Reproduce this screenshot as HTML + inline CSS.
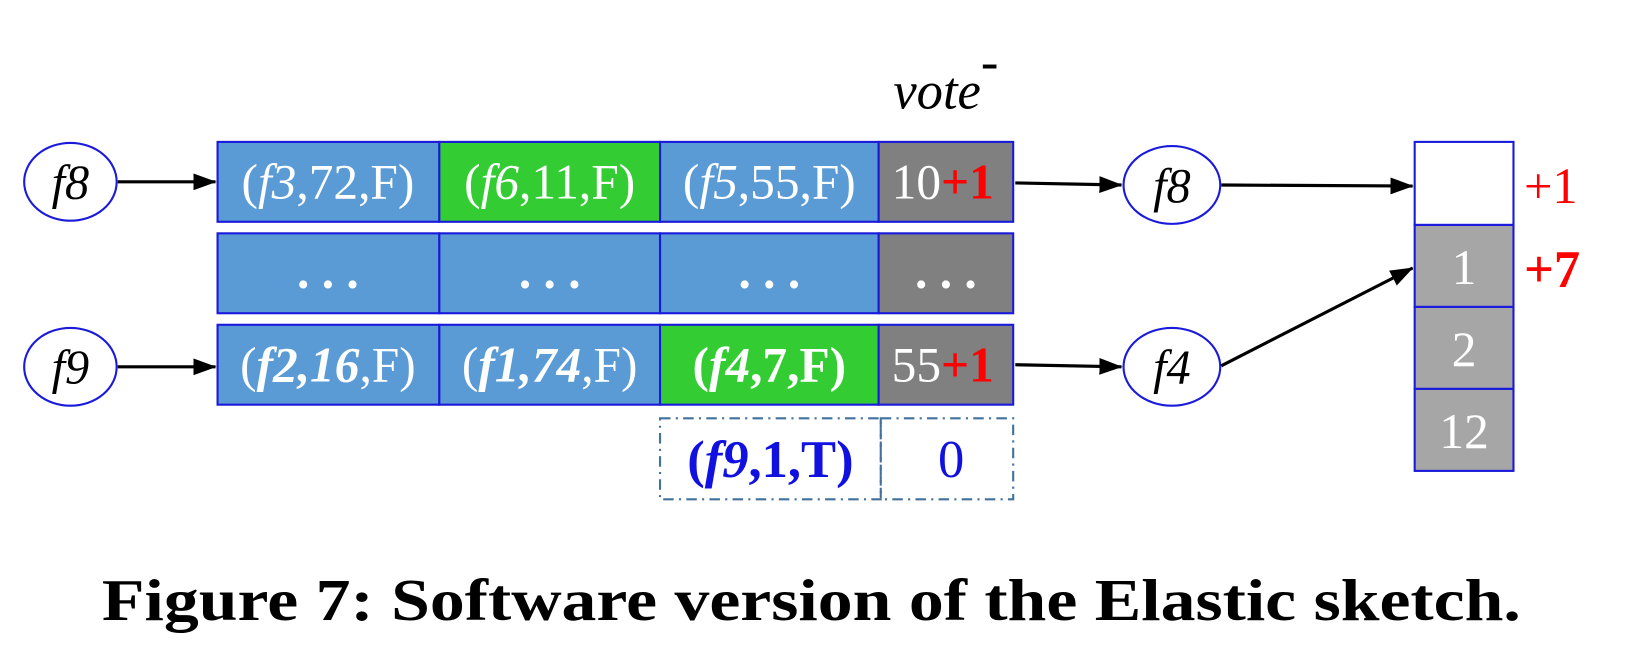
<!DOCTYPE html>
<html><head><meta charset="utf-8"><style>
body{margin:0;background:#fff}
svg{display:block}
.t{font-family:"Liberation Serif",serif;font-size:47px;fill:#fff;text-anchor:middle}
</style></head><body>
<svg width="1648" height="652" viewBox="0 0 1568 620.3" preserveAspectRatio="none">
<defs>
<marker id="ar2" markerWidth="22" markerHeight="16" refX="21" refY="8" orient="auto" markerUnits="userSpaceOnUse"><path d="M0,0 L22,8 L0,16 z" fill="#000"/></marker></defs>
<text x="850" y="103" font-family="Liberation Serif,serif" font-style="italic" font-size="50">vote<tspan dy="-28" font-style="normal">-</tspan></text>

<g>
<rect x="207" y="135" width="211" height="76" fill="#5b9bd5" stroke="#1a1adb" stroke-width="2"/>
<rect x="418" y="135" width="210" height="76" fill="#33cc33" stroke="#1a1adb" stroke-width="2"/>
<rect x="628" y="135" width="208" height="76" fill="#5b9bd5" stroke="#1a1adb" stroke-width="2"/>
<rect x="836" y="135" width="128" height="76" fill="#808080" stroke="#1a1adb" stroke-width="2"/>
<text class="t" x="312" y="189">(<tspan font-style="italic">f3</tspan>,72,F)</text>
<text class="t" x="523" y="189">(<tspan font-style="italic">f6</tspan>,11,F)</text>
<text class="t" x="732" y="189">(<tspan font-style="italic">f5</tspan>,55,F)</text>
<text class="t" x="897" y="189">10<tspan fill="#ff0000" font-weight="bold">+1</tspan></text>
</g>
<g>
<rect x="207" y="222" width="211" height="76" fill="#5b9bd5" stroke="#1a1adb" stroke-width="2"/>
<rect x="418" y="222" width="210" height="76" fill="#5b9bd5" stroke="#1a1adb" stroke-width="2"/>
<rect x="628" y="222" width="208" height="76" fill="#5b9bd5" stroke="#1a1adb" stroke-width="2"/>
<rect x="836" y="222" width="128" height="76" fill="#808080" stroke="#1a1adb" stroke-width="2"/>
<text class="t" x="312" y="274" font-weight="bold">.  .  .</text>
<text class="t" x="523" y="274" font-weight="bold">.  .  .</text>
<text class="t" x="732" y="274" font-weight="bold">.  .  .</text>
<text class="t" x="900" y="274" font-weight="bold">.  .  .</text>
</g>
<g>
<rect x="207" y="309" width="211" height="76" fill="#5b9bd5" stroke="#1a1adb" stroke-width="2"/>
<rect x="418" y="309" width="210" height="76" fill="#5b9bd5" stroke="#1a1adb" stroke-width="2"/>
<rect x="628" y="309" width="208" height="76" fill="#33cc33" stroke="#1a1adb" stroke-width="2"/>
<rect x="836" y="309" width="128" height="76" fill="#808080" stroke="#1a1adb" stroke-width="2"/>
<text class="t" x="312" y="363">(<tspan font-style="italic" font-weight="bold">f2,16</tspan>,F)</text>
<text class="t" x="523" y="363">(<tspan font-style="italic" font-weight="bold">f1,74</tspan>,F)</text>
<text class="t" x="732" y="363" font-weight="bold">(<tspan font-style="italic">f4</tspan>,7,F)</text>
<text class="t" x="897" y="363">55<tspan fill="#ff0000" font-weight="bold">+1</tspan></text>
</g>
<g>
<rect x="628" y="398" width="210" height="77" fill="none" stroke="#41719c" stroke-width="2" stroke-dasharray="10,5,2,5"/>
<rect x="838" y="398" width="126" height="77" fill="none" stroke="#41719c" stroke-width="2" stroke-dasharray="10,5,2,5"/>
<text class="t" x="733" y="454" style="fill:#1010e0;font-size:50px" font-weight="bold">(<tspan font-style="italic">f9</tspan>,1,T)</text>
<text class="t" x="905" y="454" style="fill:#1010e0;font-size:50px">0</text>
</g>

<g font-family="Liberation Serif,serif" font-style="italic" font-size="46" text-anchor="middle">
<ellipse cx="67" cy="173" rx="44" ry="37" fill="#fff" stroke="#1a1adb" stroke-width="2"/>
<text x="67" y="189">f8</text>
<ellipse cx="67" cy="349" rx="44" ry="37" fill="#fff" stroke="#1a1adb" stroke-width="2"/>
<text x="67" y="365">f9</text>
<ellipse cx="1115" cy="176" rx="46" ry="37" fill="#fff" stroke="#1a1adb" stroke-width="2"/>
<text x="1115" y="192">f8</text>
<ellipse cx="1115" cy="349" rx="46" ry="37" fill="#fff" stroke="#1a1adb" stroke-width="2"/>
<text x="1115" y="365">f4</text>
</g>

<g stroke="#000" stroke-width="3">
<line x1="112" y1="173" x2="205" y2="173" marker-end="url(#ar2)"/>
<line x1="112" y1="349" x2="205" y2="349" marker-end="url(#ar2)"/>
<line x1="966" y1="174" x2="1067" y2="176" marker-end="url(#ar2)"/>
<line x1="966" y1="347" x2="1067" y2="349" marker-end="url(#ar2)"/>
<line x1="1162" y1="176" x2="1344" y2="177" marker-end="url(#ar2)"/>
<line x1="1162" y1="348" x2="1344" y2="255" marker-end="url(#ar2)"/>
</g>

<g>
<rect x="1346" y="135" width="94" height="79" fill="#fff" stroke="#1a1adb" stroke-width="2"/>
<rect x="1346" y="214" width="94" height="78" fill="#a6a6a6" stroke="#1a1adb" stroke-width="2"/>
<rect x="1346" y="292" width="94" height="78" fill="#a6a6a6" stroke="#1a1adb" stroke-width="2"/>
<rect x="1346" y="370" width="94" height="78" fill="#a6a6a6" stroke="#1a1adb" stroke-width="2"/>
<text class="t" x="1393" y="270">1</text>
<text class="t" x="1393" y="348">2</text>
<text class="t" x="1393" y="426">12</text>
<text x="1450" y="193" font-family="Liberation Serif,serif" font-size="48" fill="#ff0000">+1</text>
<text x="1450" y="273" font-family="Liberation Serif,serif" font-size="50" font-weight="bold" fill="#ff0000">+7</text>
</g>

<text x="772" y="590" text-anchor="middle" font-family="Liberation Serif,serif" font-weight="bold" font-size="56" textLength="1350" lengthAdjust="spacingAndGlyphs">Figure 7: Software version of the Elastic sketch.</text>
</svg>
</body></html>
